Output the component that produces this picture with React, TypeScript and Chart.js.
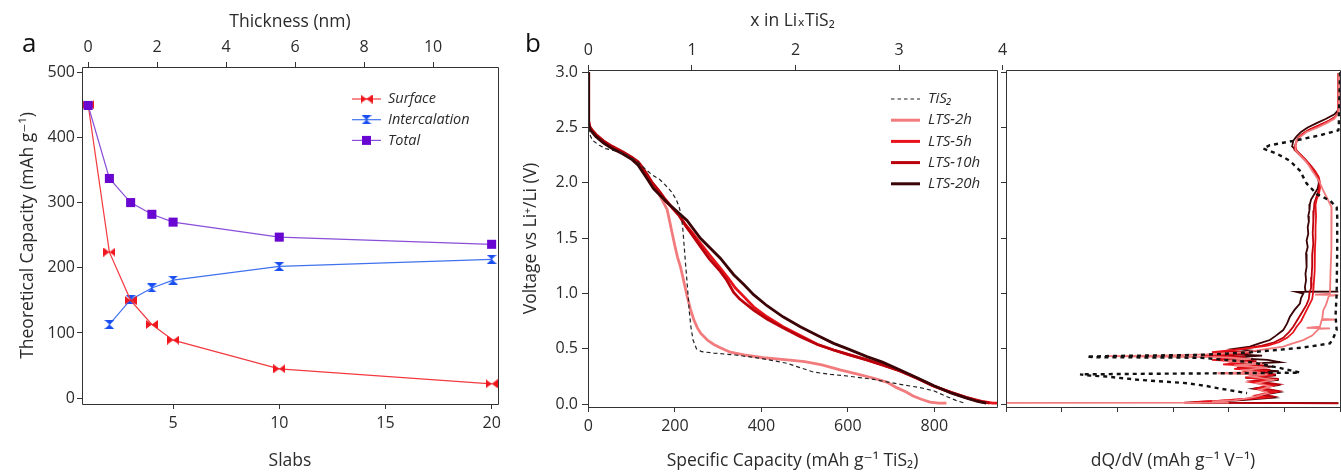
import React, { useEffect, useRef } from "react";
import { Chart, registerables } from "chart.js";

Chart.register(...registerables);

const FONT = "'Open Sans', 'DejaVu Sans', sans-serif";
const TEXT = "#2b2b2b";
const AXIS = "#333333";

// ---------- Panel a ----------
const slabs = [1, 2, 3, 4, 5, 10, 20];
const surfaceCapacity = [450, 224, 150, 113, 89, 45, 22];
const intercalationCapacity: (number | null)[] = [null, 113, 151, 169, 181, 202, 213];
const totalCapacity = [449, 337, 300, 282, 270, 247, 236];
const slabTicks = [5, 10, 15, 20];
const thicknessTicks = [0, 2, 4, 6, 8, 10];
const capacityTicks = [0, 100, 200, 300, 400, 500];
const nmPerSlab = 0.6157;

// ---------- Panel b (capacity mAh/g, voltage V) ----------
const capacityTicksB = [0, 200, 400, 600, 800];
const lithiumTicks = [0, 1, 2, 3, 4];
const voltageTicks = [0, 0.5, 1, 1.5, 2, 2.5, 3];
const mAhPerLi = 239.5;

const tis2Discharge: [number, number][] = [
  [0, 3.0], [0, 2.6], [2, 2.45], [9, 2.385], [25, 2.34], [40, 2.31], [60, 2.29], [80, 2.27],
  [110, 2.2], [130, 2.13], [148, 2.07], [165, 2.03], [178, 1.98], [192, 1.92], [203, 1.85],
  [210, 1.78], [215, 1.7], [218, 1.6], [221, 1.45], [225, 1.25], [229, 1.06], [233, 0.85],
  [237, 0.7], [242, 0.58], [250, 0.5], [262, 0.475], [290, 0.462], [340, 0.445], [398, 0.415],
  [459, 0.37], [521, 0.29], [560, 0.27], [598, 0.255], [659, 0.225], [721, 0.18], [767, 0.15],
  [800, 0.12], [828, 0.07], [850, 0.035], [870, 0.01],
];
const lts2hDischarge: [number, number][] = [
  [0, 3.0], [0, 2.6], [1, 2.55], [3, 2.5], [8, 2.47], [17, 2.43], [35, 2.37], [55, 2.325],
  [80, 2.27], [101, 2.22], [115, 2.18], [125, 2.13], [137, 2.06], [148, 1.995], [163, 1.9],
  [174, 1.82], [182, 1.76], [188, 1.65], [194, 1.54], [200, 1.43], [206, 1.33], [213, 1.24],
  [220, 1.12], [228, 0.98], [236, 0.86], [244, 0.76], [252, 0.69], [260, 0.64], [275, 0.58],
  [290, 0.54], [305, 0.51], [328, 0.47], [360, 0.445], [405, 0.42], [460, 0.4], [500, 0.385],
  [540, 0.355], [582, 0.31], [620, 0.275], [660, 0.235], [690, 0.2], [713, 0.15], [735, 0.11],
  [751, 0.075], [770, 0.045], [790, 0.02], [810, 0.01], [828, 0.01],
];
const lts5hDischarge: [number, number][] = [
  [0, 3.0], [0, 2.6], [1, 2.55], [3, 2.5], [8, 2.47], [17, 2.43], [35, 2.37], [55, 2.325],
  [80, 2.27], [101, 2.22], [115, 2.18], [125, 2.13], [137, 2.06], [148, 1.995], [163, 1.92],
  [178, 1.84], [195, 1.77], [209, 1.71], [225, 1.62], [240, 1.55], [260, 1.45], [280, 1.35],
  [305, 1.23], [325, 1.13], [340, 1.05], [360, 0.97], [382, 0.88], [413, 0.79], [450, 0.7],
  [490, 0.62], [530, 0.54], [567, 0.49], [600, 0.45], [644, 0.4], [680, 0.355], [721, 0.3],
  [760, 0.235], [798, 0.165], [840, 0.105], [875, 0.06], [910, 0.025], [935, 0.01], [945, 0.01],
];
const lts10hDischarge: [number, number][] = [
  [0, 3.0], [0, 2.6], [1, 2.56], [3, 2.51], [8, 2.48], [17, 2.44], [35, 2.38], [55, 2.33],
  [80, 2.28], [101, 2.23], [115, 2.19], [125, 2.14], [137, 2.07], [148, 2.0], [163, 1.93],
  [178, 1.85], [195, 1.77], [209, 1.71], [225, 1.61], [240, 1.53], [260, 1.42], [280, 1.31],
  [305, 1.2], [320, 1.12], [336, 1.01], [350, 0.95], [382, 0.85], [413, 0.77], [450, 0.69],
  [490, 0.61], [530, 0.54], [567, 0.49], [600, 0.45], [644, 0.4], [680, 0.355], [721, 0.3],
  [760, 0.235], [798, 0.165], [840, 0.105], [875, 0.06], [905, 0.025], [928, 0.01],
];
const lts20hDischarge: [number, number][] = [
  [0, 3.0], [0, 2.6], [1, 2.53], [3, 2.49], [8, 2.46], [17, 2.42], [35, 2.36], [55, 2.31],
  [80, 2.26], [101, 2.21], [115, 2.16], [125, 2.1], [137, 2.03], [150, 1.95], [165, 1.89],
  [180, 1.83], [200, 1.76], [228, 1.66], [259, 1.5], [305, 1.32], [336, 1.17], [360, 1.08],
  [382, 0.99], [413, 0.89], [450, 0.79], [490, 0.7], [530, 0.62], [567, 0.55], [600, 0.5],
  [644, 0.43], [680, 0.38], [721, 0.31], [760, 0.24], [798, 0.17], [840, 0.1], [875, 0.055],
  [900, 0.025], [920, 0.01],
];

// ---------- Panel c (voltage V, dQ/dV) ----------
const dqdvTicks = [-6, -5, -4, -3, -2, -1, 0];
const tis2Dqdv: [number, number][] = [
  [3.0, 0], [2.6, -0.02], [2.5, -0.02], [2.475, -0.03], [2.43, -0.36], [2.385, -0.78], [2.34, -1.26],
  [2.31, -1.38], [2.265, -1.14], [2.2, -0.9], [2.11, -0.72], [1.995, -0.6], [1.9, -0.42], [1.84, -0.18],
  [1.78, -0.06], [1.7, -0.05], [1.4, -0.05], [1.0, -0.06], [0.8, -0.08], [0.67, -0.06], [0.6, -0.12],
  [0.55, -0.18], [0.535, -0.36], [0.51, -0.7], [0.49, -1.14], [0.47, -1.6], [0.455, -2.1], [0.445, -2.6],
  [0.44, -3.5], [0.435, -4.2], [0.43, -4.55], [0.425, -4.4], [0.42, -2.5], [0.38, -1.6], [0.33, -1.1],
  [0.29, -0.75], [0.285, -0.72], [0.28, -2.0], [0.275, -3.5], [0.27, -4.67], [0.26, -4.5], [0.25, -4.2],
  [0.235, -3.9], [0.22, -3.6], [0.19, -2.75], [0.165, -2.4], [0.145, -2.2], [0.12, -1.9], [0.1, -1.67],
];
const lts2hDqdv: [number, number][] = [
  [2.99, -0.03], [2.63, -0.03], [2.58, -0.1], [2.54, -0.24], [2.5, -0.4], [2.46, -0.6], [2.42, -0.7],
  [2.385, -0.78], [2.33, -0.8], [2.295, -0.8], [2.25, -0.72], [2.2, -0.62], [2.15, -0.55], [2.11, -0.5],
  [2.05, -0.42], [2.0, -0.36], [1.93, -0.3], [1.87, -0.24], [1.84, -0.21], [1.78, -0.15], [1.6, -0.15],
  [1.4, -0.16], [1.2, -0.17], [1.0, -0.18], [0.99, -0.45], [0.986, -0.03], [0.98, -0.2], [0.9, -0.25],
  [0.85, -0.3], [0.77, -0.32], [0.765, -0.06], [0.76, -0.33], [0.7, -0.36], [0.69, -0.6], [0.686, -0.18],
  [0.68, -0.38], [0.62, -0.5], [0.58, -0.66], [0.55, -0.85], [0.52, -1.02], [0.5, -1.3], [0.47, -1.7],
  [0.45, -2.4], [0.44, -3.2], [0.435, -4.19], [0.43, -3.5], [0.425, -2.2], [0.41, -1.6], [0.39, -2.1],
  [0.37, -1.4], [0.35, -1.9], [0.33, -1.3], [0.31, -1.7], [0.29, -1.5], [0.28, -2.2], [0.27, -1.3],
  [0.25, -1.6], [0.22, -1.2], [0.19, -1.5], [0.16, -1.25], [0.13, -1.45], [0.1, -1.3], [0.07, -1.5],
  [0.05, -1.7], [0.035, -1.9], [0.025, -2.3], [0.015, -2.0], [0.012, -7],
];
const lts5hDqdv: [number, number][] = [
  [2.99, -0.03], [2.63, -0.03], [2.59, -0.1], [2.55, -0.24], [2.5, -0.45], [2.46, -0.62], [2.42, -0.72],
  [2.38, -0.78], [2.33, -0.8], [2.29, -0.78], [2.25, -0.7], [2.2, -0.6], [2.15, -0.52], [2.1, -0.44],
  [2.05, -0.38], [2.0, -0.36], [1.95, -0.36], [1.9, -0.38], [1.85, -0.42], [1.8, -0.44], [1.7, -0.43],
  [1.6, -0.44], [1.5, -0.44], [1.4, -0.45], [1.3, -0.45], [1.2, -0.46], [1.1, -0.47], [1.02, -0.48],
  [0.95, -0.5], [0.9, -0.55], [0.85, -0.6], [0.8, -0.65], [0.75, -0.7], [0.7, -0.78], [0.65, -0.84],
  [0.6, -0.95], [0.56, -1.1], [0.53, -1.3], [0.51, -1.6], [0.49, -1.9], [0.47, -2.3], [0.46, -1.7],
  [0.44, -2.5], [0.42, -1.8], [0.4, -2.3], [0.38, -1.6], [0.36, -2.1], [0.34, -1.4], [0.32, -1.9],
  [0.3, -1.3], [0.28, -1.8], [0.26, -1.2], [0.24, -1.7], [0.22, -1.25], [0.2, -1.6], [0.17, -1.2],
  [0.14, -1.5], [0.11, -1.15], [0.08, -1.5], [0.06, -1.3], [0.045, -1.8], [0.03, -2.2], [0.02, -2.6],
  [0.012, -2.6],
];
const lts10hDqdv: [number, number][] = [
  [2.99, -0.03], [2.64, -0.03], [2.6, -0.08], [2.56, -0.2], [2.52, -0.38], [2.48, -0.56], [2.44, -0.68],
  [2.4, -0.76], [2.35, -0.8], [2.3, -0.82], [2.26, -0.74], [2.21, -0.64], [2.16, -0.55], [2.11, -0.47],
  [2.06, -0.4], [2.0, -0.37], [1.94, -0.38], [1.88, -0.42], [1.82, -0.46], [1.75, -0.47], [1.65, -0.48],
  [1.55, -0.49], [1.45, -0.48], [1.35, -0.5], [1.25, -0.5], [1.15, -0.51], [1.05, -0.52], [1.0, -0.55],
  [0.95, -0.56], [0.9, -0.6], [0.85, -0.66], [0.8, -0.72], [0.75, -0.78], [0.7, -0.84], [0.65, -0.92],
  [0.6, -1.02], [0.56, -1.18], [0.53, -1.4], [0.5, -1.75], [0.48, -2.1], [0.465, -1.6], [0.45, -2.3],
  [0.43, -1.7], [0.41, -2.2], [0.39, -1.5], [0.37, -2.0], [0.35, -1.35], [0.33, -1.85], [0.31, -1.25],
  [0.29, -1.75], [0.27, -1.15], [0.25, -1.65], [0.23, -1.1], [0.21, -1.55], [0.18, -1.1], [0.15, -1.45],
  [0.12, -1.1], [0.09, -1.4], [0.07, -1.2], [0.05, -1.6], [0.035, -2.0], [0.025, -2.4], [0.015, -2.8],
  [0.008, -0.03],
];
const lts20hDqdv: [number, number][] = [
  [2.99, -0.03], [2.66, -0.03], [2.62, -0.1], [2.58, -0.25], [2.54, -0.42], [2.5, -0.58], [2.46, -0.7],
  [2.42, -0.78], [2.38, -0.84], [2.33, -0.86], [2.3, -0.8], [2.26, -0.72], [2.22, -0.64], [2.17, -0.55],
  [2.12, -0.47], [2.06, -0.4], [2.0, -0.38], [1.95, -0.4], [1.9, -0.46], [1.85, -0.52], [1.81, -0.54],
  [1.75, -0.55], [1.7, -0.57], [1.65, -0.56], [1.6, -0.58], [1.54, -0.57], [1.48, -0.6], [1.42, -0.58],
  [1.36, -0.61], [1.3, -0.6], [1.24, -0.6], [1.18, -0.62], [1.12, -0.61], [1.06, -0.63], [1.02, -0.62],
  [1.017, -0.03], [1.015, -0.78], [1.0, -0.66], [0.96, -0.7], [0.91, -0.72], [0.85, -0.82], [0.79, -0.9],
  [0.73, -0.95], [0.67, -1.02], [0.62, -1.15], [0.58, -1.26], [0.55, -1.45], [0.52, -1.62], [0.5, -1.9],
  [0.48, -1.5], [0.46, -2.2], [0.44, -1.4], [0.42, -2.0], [0.4, -1.3], [0.38, -1.08], [0.36, -1.9],
  [0.34, -1.2], [0.32, -1.8], [0.3, -1.1], [0.28, -1.6], [0.26, -1.15], [0.24, -1.7], [0.22, -1.1],
  [0.2, -1.5], [0.17, -1.15], [0.14, -1.55], [0.11, -1.1], [0.08, -1.45], [0.06, -1.2], [0.04, -1.7],
  [0.025, -2.1], [0.015, -2.5], [0.01, -0.03],
];

// ---------- colours ----------
const C_SURFACE = "#f0161e";
const C_SURFACE_LINE = "#f23a3f";
const C_INTER = "#1a4ff0";
const C_INTER_LINE = "#3f72ee";
const C_TOTAL = "#6a06d2";
const C_TOTAL_LINE = "#8a4ed8";
const C_TIS2 = "#222222";
const C_2H = "#f27b7d";
const C_5H = "#e8121b";
const C_10H = "#b9000b";
const C_20H = "#3a0305";

const tickFont = { family: FONT, size: 16 };
const titleFont = { family: FONT, size: 17.5 };

function xyPoints(xs: number[], ys: (number | null)[]) {
  return xs
    .map((x, i) => ({ x, y: ys[i] }))
    .filter((p) => p.y !== null) as { x: number; y: number }[];
}
function capPoints(arr: [number, number][]) {
  return arr.map(([c, v]) => ({ x: c, y: v }));
}
function dqdvPoints(arr: [number, number][]) {
  return arr.map(([v, d]) => ({ x: d, y: v }));
}
function fixedTicks(values: number[]) {
  return (scale: any) => {
    scale.ticks = values.map((v) => ({ value: v }));
  };
}

function makeBowtie(color: string, w: number, h: number, vertical: boolean) {
  const c = document.createElement("canvas");
  c.width = w;
  c.height = h;
  const g = c.getContext("2d")!;
  g.fillStyle = color;
  g.strokeStyle = color;
  g.beginPath();
  if (!vertical) {
    g.moveTo(0, 0); g.lineTo(w / 2, h / 2); g.lineTo(0, h); g.closePath();
    g.moveTo(w, 0); g.lineTo(w / 2, h / 2); g.lineTo(w, h); g.closePath();
  } else {
    g.moveTo(0, 0); g.lineTo(w, 0); g.lineTo(w / 2, h / 2); g.closePath();
    g.moveTo(0, h); g.lineTo(w, h); g.lineTo(w / 2, h / 2); g.closePath();
  }
  g.fill();
  g.lineWidth = 1;
  g.beginPath();
  if (!vertical) { g.moveTo(0, h / 2); g.lineTo(w, h / 2); }
  else { g.moveTo(w / 2, 0); g.lineTo(w / 2, h); }
  g.stroke();
  return c;
}

const alignPx = (p: number) => Math.round(p - 0.5) + 0.5;

const framePlugin = {
  id: "frame",
  afterDatasetsDraw(chart: any) {
    const { ctx, chartArea: a } = chart;
    ctx.save();
    ctx.strokeStyle = AXIS;
    ctx.lineWidth = 1;
    const l = alignPx(a.left), r = alignPx(a.right), t = alignPx(a.top), b = alignPx(a.bottom);
    ctx.beginPath();
    ctx.moveTo(l, t); ctx.lineTo(r, t); ctx.lineTo(r, b); ctx.lineTo(l, b); ctx.closePath();
    ctx.stroke();
    ctx.restore();
  },
};

function panelLetter(letter: string, x: number, y: number) {
  return {
    id: "letter" + letter,
    afterDraw(chart: any) {
      const ctx = chart.ctx;
      ctx.save();
      ctx.font = `26px ${FONT}`;
      ctx.fillStyle = "#111";
      ctx.textBaseline = "alphabetic";
      ctx.fillText(letter, x, y);
      ctx.restore();
    },
  };
}

const gridOpts = {
  display: true,
  drawOnChartArea: false,
  drawTicks: true,
  tickLength: 5,
  color: AXIS,
  lineWidth: 1,
};

export default function App() {
  const refA = useRef<HTMLCanvasElement>(null);
  const refB = useRef<HTMLCanvasElement>(null);
  const refC = useRef<HTMLCanvasElement>(null);

  useEffect(() => {
    const surfMarker = makeBowtie(C_SURFACE, 12, 9, false);
    const interMarker = makeBowtie(C_INTER, 10, 9, true);

    // ---------- chart a ----------
    const xMinA = 0.71, xMaxA = 20.3;
    const legendA = {
      id: "legendA",
      afterDraw(chart: any) {
        const ctx = chart.ctx;
        const items = [
          { label: "Surface", line: C_SURFACE_LINE, marker: "surf" },
          { label: "Intercalation", line: C_INTER_LINE, marker: "inter" },
          { label: "Total", line: C_TOTAL_LINE, marker: "total" },
        ];
        ctx.save();
        ctx.font = `italic 14.5px ${FONT}`;
        ctx.textBaseline = "middle";
        items.forEach((it, i) => {
          const y = 99 + i * 20.7;
          ctx.strokeStyle = it.line;
          ctx.lineWidth = 1.2;
          ctx.beginPath();
          ctx.moveTo(352, y);
          ctx.lineTo(381, y);
          ctx.stroke();
          if (it.marker === "surf") ctx.drawImage(surfMarker, 366.5 - 6, y - 4.5);
          else if (it.marker === "inter") ctx.drawImage(interMarker, 366.5 - 5, y - 4.5);
          else {
            ctx.fillStyle = C_TOTAL;
            ctx.fillRect(366.5 - 4.5, y - 4.5, 9, 9);
          }
          ctx.fillStyle = TEXT;
          ctx.fillText(it.label, 388, y);
        });
        ctx.restore();
      },
    };

    const chartA = new Chart(refA.current!, {
      type: "scatter",
      data: {
        datasets: [
          {
            label: "Total",
            data: xyPoints(slabs, totalCapacity),
            showLine: true,
            borderColor: C_TOTAL_LINE,
            borderWidth: 1.2,
            pointStyle: "rect",
            pointRadius: 6.4,
            pointBackgroundColor: C_TOTAL,
            pointBorderWidth: 0,
          },
          {
            label: "Surface",
            data: xyPoints(slabs, surfaceCapacity),
            showLine: true,
            borderColor: C_SURFACE_LINE,
            borderWidth: 1.2,
            pointStyle: surfMarker as any,
            pointRadius: 6,
          },
          {
            label: "Intercalation",
            data: xyPoints(slabs, intercalationCapacity),
            showLine: true,
            borderColor: C_INTER_LINE,
            borderWidth: 1.2,
            pointStyle: interMarker as any,
            pointRadius: 6,
          },
        ],
      },
      options: {
        animation: false,
        responsive: false,
        maintainAspectRatio: false,
        events: [],
        layout: { padding: { left: 0, right: 22, top: 0, bottom: 0 } },
        plugins: { legend: { display: false }, tooltip: { enabled: false } },
        scales: {
          x: {
            type: "linear",
            position: "bottom",
            min: xMinA,
            max: xMaxA,
            afterBuildTicks: fixedTicks(slabTicks),
            ticks: { font: tickFont, color: TEXT, padding: 5, maxRotation: 0, autoSkip: false },
            grid: gridOpts,
            border: { display: false },
            title: { display: true, text: "Slabs", font: titleFont, color: TEXT, padding: { top: 14, bottom: 0 } },
            afterFit: (s: any) => { s.height = 68; },
          },
          x2: {
            type: "linear",
            position: "top",
            min: (xMinA - 1) * nmPerSlab,
            max: (xMaxA - 1) * nmPerSlab,
            afterBuildTicks: fixedTicks(thicknessTicks),
            ticks: { font: tickFont, color: TEXT, padding: 5, maxRotation: 0, autoSkip: false },
            grid: gridOpts,
            border: { display: false },
            title: { display: true, text: "Thickness (nm)", font: titleFont, color: TEXT, padding: { top: 11.5, bottom: 0 } },
            afterFit: (s: any) => { s.height = 67; },
          },
          y: {
            type: "linear",
            min: -9,
            max: 508,
            afterBuildTicks: fixedTicks(capacityTicks),
            ticks: { font: tickFont, color: TEXT, padding: 2, autoSkip: false },
            grid: gridOpts,
            border: { display: false },
            title: { display: true, text: "Theoretical Capacity (mAh g⁻¹)", font: titleFont, color: TEXT, padding: { top: 17.5, bottom: 0 } },
            afterFit: (s: any) => { s.width = 82; },
          },
        },
      } as any,
      plugins: [framePlugin, legendA, panelLetter("a", 22, 52)],
    });

    // ---------- chart b ----------
    const xMinB = -1, xMaxB = 945;
    const legendB = {
      id: "legendB",
      afterDraw(chart: any) {
        const ctx = chart.ctx;
        const items = [
          { label: "TiS₂", color: C_TIS2, dash: true },
          { label: "LTS-2h", color: C_2H, dash: false },
          { label: "LTS-5h", color: C_5H, dash: false },
          { label: "LTS-10h", color: C_10H, dash: false },
          { label: "LTS-20h", color: C_20H, dash: false },
        ];
        ctx.save();
        ctx.font = `italic 15px ${FONT}`;
        ctx.textBaseline = "middle";
        items.forEach((it, i) => {
          const y = 99 + i * 21.2;
          ctx.strokeStyle = it.color;
          ctx.lineWidth = it.dash ? 1.2 : 3;
          ctx.setLineDash(it.dash ? [3.5, 3] : []);
          ctx.beginPath();
          ctx.moveTo(371, y);
          ctx.lineTo(400, y);
          ctx.stroke();
          ctx.setLineDash([]);
          ctx.fillStyle = TEXT;
          ctx.fillText(it.label, 408, y);
        });
        ctx.restore();
      },
    };

    const lineDs = (label: string, data: any[], color: string, width: number, dash?: number[]) => ({
      label,
      data,
      showLine: true,
      borderColor: color,
      borderWidth: width,
      borderDash: dash || [],
      pointRadius: 0,
      tension: 0,
    });

    const chartB = new Chart(refB.current!, {
      type: "scatter",
      data: {
        datasets: [
          lineDs("TiS₂", capPoints(tis2Discharge), C_TIS2, 1.2, [4, 3]),
          lineDs("LTS-20h", capPoints(lts20hDischarge), C_20H, 2.8),
          lineDs("LTS-10h", capPoints(lts10hDischarge), C_10H, 2.8),
          lineDs("LTS-5h", capPoints(lts5hDischarge), C_5H, 2.8),
          lineDs("LTS-2h", capPoints(lts2hDischarge), C_2H, 2.8),
        ],
      },
      options: {
        animation: false,
        responsive: false,
        maintainAspectRatio: false,
        events: [],
        layout: { padding: { left: 0, right: 23, top: 0, bottom: 0 } },
        plugins: { legend: { display: false }, tooltip: { enabled: false } },
        scales: {
          x: {
            type: "linear",
            position: "bottom",
            min: xMinB,
            max: xMaxB,
            afterBuildTicks: fixedTicks(capacityTicksB),
            ticks: { font: tickFont, color: TEXT, padding: 5, maxRotation: 0, autoSkip: false },
            grid: gridOpts,
            border: { display: false },
            title: { display: true, text: "Specific Capacity (mAh g⁻¹ TiS₂)", font: titleFont, color: TEXT, padding: { top: 0, bottom: 0 } },
            afterFit: (s: any) => { s.height = 65; },
          },
          x2: {
            type: "linear",
            position: "top",
            min: xMinB / mAhPerLi,
            max: xMaxB / mAhPerLi,
            afterBuildTicks: fixedTicks(lithiumTicks),
            ticks: { font: tickFont, color: TEXT, padding: 5, maxRotation: 0, autoSkip: false },
            grid: gridOpts,
            border: { display: false },
            title: { display: true, text: "x in LiₓTiS₂", font: titleFont, color: TEXT, padding: { top: 11, bottom: 0 } },
            afterFit: (s: any) => { s.height = 70; },
          },
          y: {
            type: "linear",
            min: -0.025,
            max: 3.02,
            afterBuildTicks: fixedTicks(voltageTicks),
            ticks: { font: tickFont, color: TEXT, padding: 4, autoSkip: false, callback: (v: any) => Number(v).toFixed(1) },
            grid: { ...gridOpts, tickLength: 6 },
            border: { display: false },
            title: { display: true, text: "Voltage vs Li⁺/Li (V)", font: titleFont, color: TEXT, padding: { top: 1, bottom: 0 } },
            afterFit: (s: any) => { s.width = 68; },
          },
        },
      } as any,
      plugins: [framePlugin, legendB, panelLetter("b", 5, 52)],
    });

    // ---------- chart c ----------
    const chartC = new Chart(refC.current!, {
      type: "scatter",
      data: {
        datasets: [
          lineDs("TiS₂", dqdvPoints(tis2Dqdv), "#111111", 2.4, [4, 4]),
          lineDs("LTS-2h", dqdvPoints(lts2hDqdv), C_2H, 1.8),
          lineDs("LTS-5h", dqdvPoints(lts5hDqdv), C_5H, 1.8),
          lineDs("LTS-10h", dqdvPoints(lts10hDqdv), C_10H, 1.8),
          lineDs("LTS-20h", dqdvPoints(lts20hDqdv), C_20H, 1.8),
        ],
      },
      options: {
        animation: false,
        responsive: false,
        maintainAspectRatio: false,
        events: [],
        layout: { padding: { left: 0, right: 1, top: 70, bottom: 0 } },
        plugins: { legend: { display: false }, tooltip: { enabled: false } },
        scales: {
          x: {
            type: "linear",
            position: "bottom",
            min: -6,
            max: 0,
            afterBuildTicks: fixedTicks(dqdvTicks),
            ticks: { display: false },
            grid: gridOpts,
            border: { display: false },
            title: { display: true, text: "dQ/dV (mAh g⁻¹ V⁻¹)", font: titleFont, color: TEXT, padding: { top: 1.5, bottom: 0 } },
            afterFit: (s: any) => { s.height = 65; },
          },
          y: {
            type: "linear",
            min: -0.025,
            max: 3.02,
            afterBuildTicks: fixedTicks(voltageTicks),
            ticks: { display: false },
            grid: gridOpts,
            border: { display: false },
            afterFit: (s: any) => { s.width = 6; },
          },
        },
      } as any,
      plugins: [framePlugin],
    });

    return () => {
      chartA.destroy();
      chartB.destroy();
      chartC.destroy();
    };
  }, []);

  return (
    <div style={{ position: "absolute", left: 0, top: 0, width: 1341, height: 472, background: "#fff", overflow: "hidden" }}>
      <canvas ref={refC} width={341} height={472} style={{ position: "absolute", left: 1000, top: 0, width: 341, height: 472 }} />
      <canvas ref={refA} width={520} height={472} style={{ position: "absolute", left: 0, top: 0, width: 520, height: 472 }} />
      <canvas ref={refB} width={500} height={472} style={{ position: "absolute", left: 520, top: 0, width: 500, height: 472 }} />
    </div>
  );
}
